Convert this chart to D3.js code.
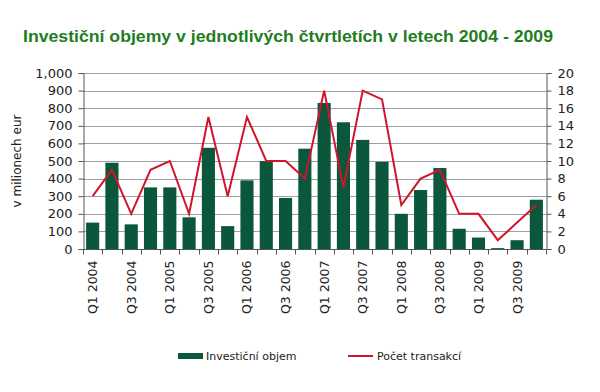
<!DOCTYPE html>
<html><head><meta charset="utf-8">
<script src="https://cdn.jsdelivr.net/npm/d3@7"></script>
<style>body{margin:0;background:#fff}svg{display:block}</style>
</head><body>
<svg id="c" width="600" height="392"></svg>
<script>
const categories = ["Q1 2004","Q2 2004","Q3 2004","Q4 2004","Q1 2005","Q2 2005","Q3 2005","Q4 2005",
"Q1 2006","Q2 2006","Q3 2006","Q4 2006","Q1 2007","Q2 2007","Q3 2007","Q4 2007",
"Q1 2008","Q2 2008","Q3 2008","Q4 2008","Q1 2009","Q2 2009","Q3 2009","Q4 2009"];
const volume = [150,490,140,350,350,180,575,130,390,500,290,570,830,720,620,495,200,335,460,115,65,5,50,280];
const transactions = [6,9,4,9,10,4,15,6,15,10,10,8,18,7,18,17,5,8,9,4,4,1,3,5];
const leftTicks = [0,100,200,300,400,500,600,700,800,900,1000];
const rightTicks = [0,2,4,6,8,10,12,14,16,18,20];

const svg = d3.select("#c");
const m = {l:83, r:546, t:73, b:249};
const x = d3.scaleBand().domain(categories).range([m.l, m.r]).paddingInner(0.32).paddingOuter(0.16);
const yL = d3.scaleLinear().domain([0,1000]).range([m.b, m.t]);
const yR = d3.scaleLinear().domain([0,20]).range([m.b, m.t]);
const font = "DejaVu Sans, sans-serif";

svg.append("text").attr("x", 23).attr("y", 42).attr("font-family","Liberation Sans, Arial, sans-serif")
  .attr("font-weight","bold").attr("font-size",16.8).attr("fill","#1e7d1e")
  .attr("textLength",530).attr("lengthAdjust","spacingAndGlyphs")
  .text("Investiční objemy v jednotlivých čtvrtletích v letech 2004 - 2009");

// gridlines
svg.append("g").selectAll("line").data(leftTicks.slice(1)).join("line")
  .attr("x1", m.l).attr("x2", m.r).attr("y1", d=>Math.round(yL(d))+0.5).attr("y2", d=>Math.round(yL(d))+0.5)
  .attr("stroke","#a0a0a0").attr("stroke-width",1);

// bars
svg.append("g").selectAll("rect").data(volume).join("rect")
  .attr("x", (d,i)=>x(categories[i])).attr("width", x.bandwidth())
  .attr("y", d=>yL(d)).attr("height", d=>yL(0)-yL(d)).attr("fill","#0b573b");

// line
svg.append("path").datum(transactions)
  .attr("d", d3.line().x((d,i)=>x(categories[i])+x.bandwidth()/2).y(d=>yR(d)))
  .attr("fill","none").attr("stroke","#d0142c").attr("stroke-width",2);

// left axis
const gL = svg.append("g").attr("transform",`translate(${m.l+0.5},0)`)
  .call(d3.axisLeft(yL).tickValues(leftTicks).tickFormat(d3.format(",")).tickSize(5).tickPadding(6));
// right axis
const gR = svg.append("g").attr("transform",`translate(${m.r+0.5},0)`)
  .call(d3.axisRight(yR).tickValues(rightTicks).tickSize(5).tickPadding(6));
[gL,gR].forEach(g=>{
  g.select(".domain").attr("stroke","#555");
  g.selectAll(".tick line").attr("stroke","#555");
  g.selectAll("text").attr("font-family",font).attr("font-size",13).attr("fill","#222");
});

// x axis
const gX = svg.append("g").attr("transform",`translate(0,${m.b+0.5})`);
gX.append("line").attr("x1",m.l).attr("x2",m.r).attr("stroke","#555");
const step = x.step();
gX.selectAll("line.t").data(d3.range(categories.length+1)).join("line").attr("class","t")
  .attr("x1", i=>Math.round(m.l + x.paddingOuter()*step - x.paddingInner()*step/2 + i*step)+0.5)
  .attr("x2", i=>Math.round(m.l + x.paddingOuter()*step - x.paddingInner()*step/2 + i*step)+0.5)
  .attr("y1",0).attr("y2",5).attr("stroke","#555");
gX.selectAll("text").data(categories.filter((c,i)=>i%2===0)).join("text")
  .attr("transform", d=>`translate(${x(d)+x.bandwidth()/2+4.5},11) rotate(-90)`)
  .attr("text-anchor","end").attr("font-family",font).attr("font-size",12.5).attr("fill","#222")
  .text(d=>d);

// y axis title
svg.append("text").attr("transform","translate(21,161) rotate(-90)").attr("text-anchor","middle")
  .attr("font-family",font).attr("font-size",12).attr("fill","#222").text("v milionech eur");

// legend
const lg = svg.append("g");
lg.append("rect").attr("x",178).attr("y",353).attr("width",25).attr("height",6).attr("fill","#0b573b");
lg.append("text").attr("x",206).attr("y",360).attr("font-family",font).attr("font-size",11).attr("fill","#222").text("Investiční objem");
lg.append("line").attr("x1",348).attr("x2",373).attr("y1",356).attr("y2",356).attr("stroke","#d0142c").attr("stroke-width",2);
lg.append("text").attr("x",377).attr("y",360).attr("font-family",font).attr("font-size",11).attr("fill","#222").text("Počet transakcí");
</script>
</body></html>
